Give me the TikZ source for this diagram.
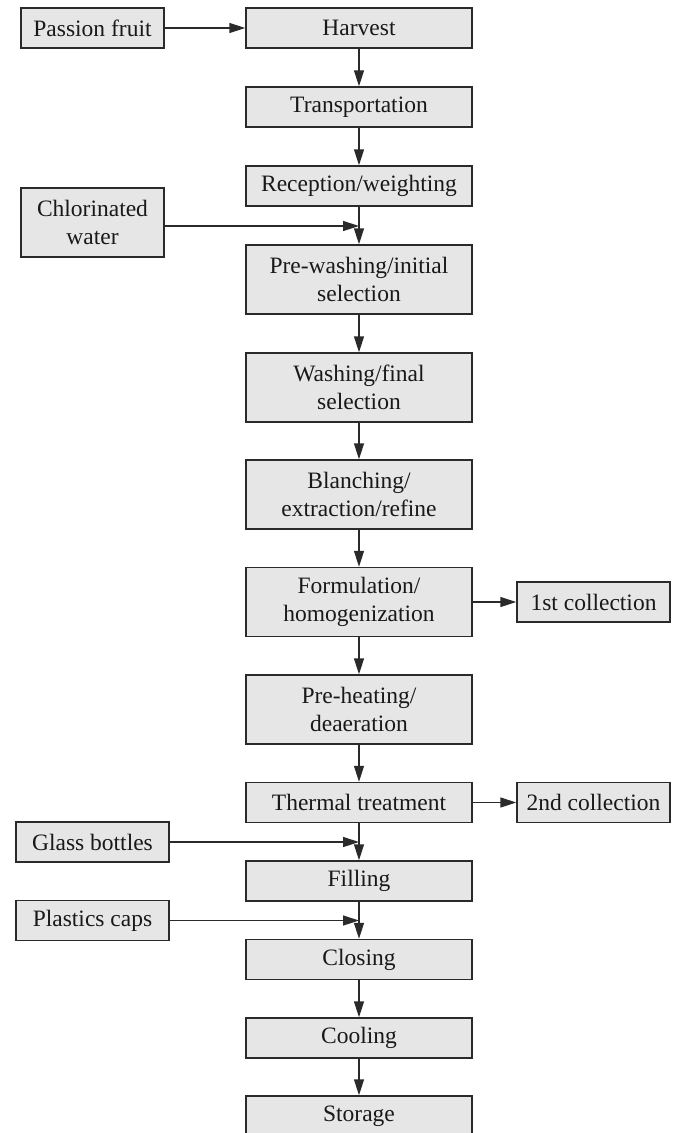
\documentclass[tikz,border=0pt]{standalone}
\usepackage{fontspec}
\setmainfont{Liberation Serif}
\usetikzlibrary{arrows.meta}
\definecolor{boxfill}{HTML}{E6E6E6}
\definecolor{linecol}{HTML}{2A2A2A}
\tikzset{
  box/.style={draw=linecol, fill=boxfill, line width=1.5pt, inner sep=0pt, align=center,
    font=\fontsize{23.5}{28}\selectfont, text=black!90},
  mainbox/.style={box, minimum width=226pt, minimum height=40pt},
  mainbox2/.style={box, minimum width=226pt, minimum height=69pt},
  sidebox/.style={box, minimum width=153pt, minimum height=40pt},
  conn/.style={draw=linecol, line width=1.5pt, -{Triangle[length=16pt,width=10pt]}}
}
\begin{document}
\begin{tikzpicture}[x=1pt,y=-1pt]
\useasboundingbox (0,0) rectangle (676,1133);
\clip (0,0) rectangle (676,1133);
% main column
\node[mainbox]  (harv)  at (359,28)    {Harvest};
\node[mainbox]  (trans) at (359,107)   {Transportation};
\node[mainbox]  (rec)   at (359,186)   {Reception/weighting};
\node[mainbox2] (prew)  at (359,279.5) {Pre-washing/initial\\selection};
\node[mainbox2] (wash)  at (359,387.5) {Washing/final\\selection};
\node[mainbox2] (blan)  at (359,494.5) {Blanching/\\extraction/refine};
\node[mainbox2] (form)  at (359,602)   {Formulation/\\homogenization};
\node[mainbox2] (preh)  at (359,709.5) {Pre-heating/\\deaeration};
\node[mainbox]  (therm) at (359,802.5) {Thermal treatment};
\node[mainbox]  (fill)  at (359,881)   {Filling};
\node[mainbox]  (clos)  at (359,959.5) {Closing};
\node[mainbox]  (cool)  at (359,1038)  {Cooling};
\node[mainbox]  (stor)  at (359,1116)  {Storage};
% side boxes
\node[sidebox, minimum width=143pt] (pf) at (92.5,28) {Passion fruit};
\node[box, minimum width=143pt, minimum height=69pt] (chl) at (92.5,222.5) {Chlorinated\\water};
\node[sidebox] (c1) at (593.5,602) {1st collection};
\node[sidebox] (c2) at (593.5,802.5) {2nd collection};
\node[sidebox] (gb) at (92.5,842) {Glass bottles};
\node[sidebox] (pc) at (92.5,920.5) {Plastics caps};
% junction points
\coordinate (j1) at (359,226);
\coordinate (j2) at (359,842);
\coordinate (j3) at (359,920.5);
% main flow
\draw[conn] (harv) -- (trans);
\draw[conn] (trans) -- (rec);
\draw[conn] (rec) -- (prew);
\draw[conn] (prew) -- (wash);
\draw[conn] (wash) -- (blan);
\draw[conn] (blan) -- (form);
\draw[conn] (form) -- (preh);
\draw[conn] (preh) -- (therm);
\draw[conn] (therm) -- (fill);
\draw[conn] (fill) -- (clos);
\draw[conn] (clos) -- (cool);
\draw[conn] (cool) -- (stor);
% side flows
\draw[conn] (pf) -- (harv);
\draw[conn] (chl.east |- j1) -- (j1);
\draw[conn] (form) -- (c1);
\draw[conn] (therm) -- (c2);
\draw[conn] (gb) -- (j2);
\draw[conn] (pc) -- (j3);
\end{tikzpicture}
\end{document}
